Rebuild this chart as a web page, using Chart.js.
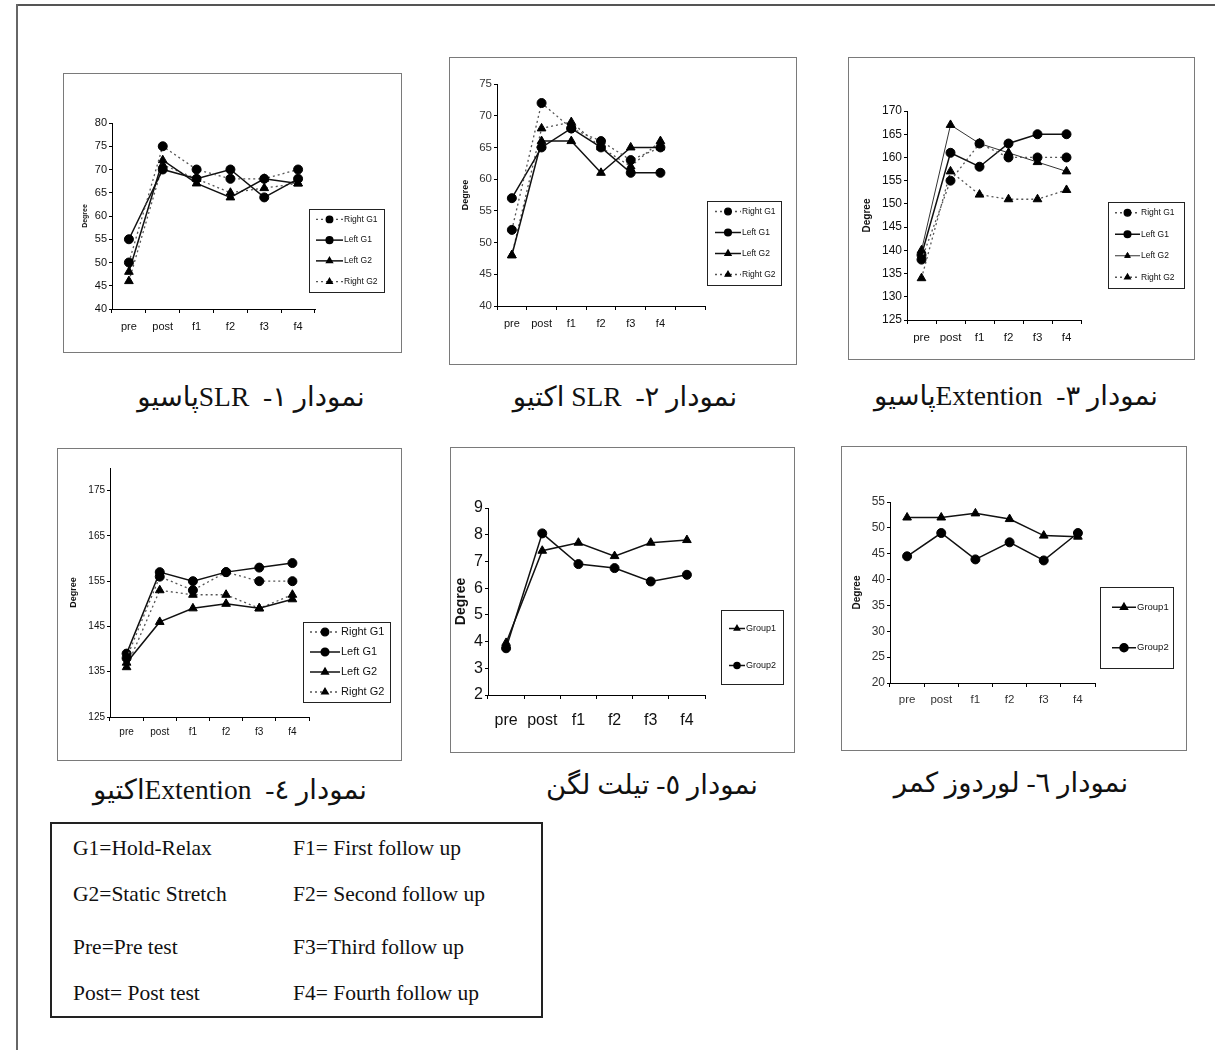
<!DOCTYPE html>
<html>
<head>
<meta charset="utf-8">
<script src="https://cdn.jsdelivr.net/npm/chart.js@4.4.1/dist/chart.umd.min.js"></script>
<style>
  body { margin: 0; background: #fff; }
  #page { position: relative; width: 1215px; height: 1050px; overflow: hidden; background: #fff; }
  #page canvas { position: absolute; outline: 1.5px solid #7a7a7a; outline-offset: -1.5px; }
  .edge-top { position: absolute; left: 17px; top: 4px; width: 1198px; height: 0; border-top: 2px solid #555; }
  .edge-left { position: absolute; left: 16px; top: 4px; width: 0; height: 1046px; border-left: 2px solid #666; }
  .cap { position: absolute; width: 440px; height: 34px; line-height: 34px; text-align: center;
         direction: rtl; white-space: pre; color: #111;
         font-family: "Liberation Serif", "DejaVu Sans", serif; font-size: 27.5px; }
  #key { position: absolute; left: 50px; top: 822px; width: 489px; height: 192px; border: 2px solid #222;
         font-family: "Liberation Serif", serif; font-size: 21.5px; color: #111; }
  #key div { position: absolute; white-space: nowrap; line-height: 24px; }
</style>
</head>
<body>
<div id="page">
  <div class="edge-top"></div>
  <div class="edge-left"></div>

  <canvas id="c1" width="339" height="280" style="left:63px;top:73px"></canvas>
  <canvas id="c2" width="348" height="308" style="left:449px;top:57px"></canvas>
  <canvas id="c3" width="347" height="303" style="left:848px;top:57px"></canvas>
  <canvas id="c4" width="345" height="313" style="left:57px;top:448px"></canvas>
  <canvas id="c5" width="345" height="306" style="left:450px;top:447px"></canvas>
  <canvas id="c6" width="346" height="305" style="left:841px;top:446px"></canvas>

  <div class="cap" style="left:31px;top:380px">نمودار ۱-  SLRپاسیو</div>
  <div class="cap" style="left:405px;top:380px">نمودار ۲-  SLR اکتیو</div>
  <div class="cap" style="left:796px;top:379px">نمودار ۳-  Extentionپاسیو</div>
  <div class="cap" style="left:10px;top:773px">نمودار ٤-  Extentionاکتیو</div>
  <div class="cap" style="left:432px;top:768px">نمودار ٥- تیلت لگن</div>
  <div class="cap" style="left:791px;top:766px">نمودار ٦- لوردوز کمر</div>

  <div id="key">
    <div style="left:21px;top:12px">G1=Hold-Relax</div>
    <div style="left:21px;top:58px">G2=Static Stretch</div>
    <div style="left:21px;top:111px">Pre=Pre test</div>
    <div style="left:21px;top:157px">Post= Post test</div>
    <div style="left:241px;top:12px">F1= First follow up</div>
    <div style="left:241px;top:58px">F2= Second follow up</div>
    <div style="left:241px;top:111px">F3=Third follow up</div>
    <div style="left:241px;top:157px">F4= Fourth follow up</div>
  </div>
</div>

<script>
// categories
const categories = ['pre', 'post', 'f1', 'f2', 'f3', 'f4'];
const categoriesWide = ['pre', 'post', 'f1', 'f2', 'f3', 'f4', '']; // chart 2 leaves one empty slot

// chart 1 - SLR passive
const slrPassiveRightG1 = [50, 75, 70, 68, 68, 70];
const slrPassiveLeftG1 = [55, 70, 68, 70, 64, 68];
const slrPassiveLeftG2 = [48, 72, 67, 64, 68, 67];
const slrPassiveRightG2 = [46, 71, 68, 65, 66, 67];

// chart 2 - SLR active
const slrActiveRightG1 = [52, 72, 68, 66, 63, 65];
const slrActiveLeftG1 = [57, 65, 68, 65, 61, 61];
const slrActiveLeftG2 = [48, 66, 66, 61, 65, 65];
const slrActiveRightG2 = [48, 68, 69, 65, 62, 66];

// chart 3 - extension passive
const extPassiveRightG1 = [138, 155, 163, 160, 160, 160];
const extPassiveLeftG1 = [139, 161, 158, 163, 165, 165];
const extPassiveLeftG2 = [140, 167, 163, 161, 159, 157];
const extPassiveRightG2 = [134, 157, 152, 151, 151, 153];

// chart 4 - extension active
const extActiveRightG1 = [138, 156, 153, 157, 155, 155];
const extActiveLeftG1 = [139, 157, 155, 157, 158, 159];
const extActiveLeftG2 = [137, 146, 149, 150, 149, 151];
const extActiveRightG2 = [136, 153, 152, 152, 149, 152];
const extActiveTicks = [125, 135, 145, 155, 165, 175];

// chart 5 - pelvic tilt
const tiltGroup1 = [3.95, 7.4, 7.7, 7.2, 7.7, 7.8];
const tiltGroup2 = [3.75, 8.05, 6.9, 6.75, 6.25, 6.5];

// chart 6 - lordosis
const lordosisGroup1 = [52, 52, 52.8, 51.7, 48.5, 48.3];
const lordosisGroup2 = [44.5, 49, 43.9, 47.2, 43.7, 49];

// legend drawn as an Excel style box: line sample with the marker on it
const boxLegend = {
  id: 'boxLegend',
  afterDraw(chart, args, opts) {
    if (!opts.box) return;
    const ctx = chart.ctx;
    const [x, y, w, h] = opts.box;
    ctx.save();
    ctx.setLineDash([]);
    ctx.strokeStyle = '#222';
    ctx.lineWidth = 1;
    ctx.strokeRect(x + 0.5, y + 0.5, w, h);
    const n = chart.data.datasets.length;
    const rowH = h / n;
    ctx.font = opts.font;
    ctx.textBaseline = 'middle';
    chart.data.datasets.forEach((ds, i) => {
      const cy = y + rowH * (i + 0.5);
      const x0 = x + opts.pad;
      const x1 = x0 + opts.sample;
      ctx.strokeStyle = ds.borderColor;
      ctx.lineWidth = ds.borderWidth;
      ctx.setLineDash(ds.borderDash || []);
      ctx.beginPath();
      ctx.moveTo(x0, cy);
      ctx.lineTo(x1, cy);
      ctx.stroke();
      ctx.setLineDash([]);
      ctx.fillStyle = '#000';
      ctx.strokeStyle = '#000';
      Chart.helpers.drawPoint(ctx, {
        pointStyle: ds.pointStyle, radius: opts.marker, borderWidth: 1, rotation: 0
      }, (x0 + x1) / 2, cy);
      ctx.fillStyle = '#111';
      ctx.fillText(ds.label, x1 + 1, cy);
    });
    ctx.restore();
  }
};

function series(label, data, dotted, style) {
  return {
    label: label,
    data: data,
    borderColor: dotted ? '#555' : '#111',
    borderWidth: dotted ? 1.3 : 1.5,
    borderDash: dotted ? [2, 3] : [],
    pointStyle: style,
    pointRadius: style === 'triangle' ? 5 : 4.5,
    pointBackgroundColor: '#000',
    pointBorderColor: '#000',
    pointBorderWidth: 1,
    tension: 0,
    fill: false
  };
}

function makeChart(id, labels, datasets, cfg) {
  const canvas = document.getElementById(id);
  const [l, t, r, b] = cfg.plot;
  const yTicks = {
    color: cfg.yColor || '#111',
    font: cfg.yFont,
    padding: 2
  };
  if (cfg.step) yTicks.stepSize = cfg.step;

  new Chart(canvas, {
    type: 'line',
    data: { labels: labels, datasets: datasets },
    options: {
      responsive: false,
      animation: false,
      layout: { padding: { left: 0, top: t, right: canvas.width - r, bottom: 0 } },
      plugins: {
        legend: { display: false },
        tooltip: { enabled: false },
        boxLegend: cfg.legend
      },
      scales: {
        x: {
          offset: true,
          grid: { display: true, drawOnChartArea: false, offset: true, tickLength: 4, color: '#000' },
          border: { display: true, color: '#000', width: 1 },
          ticks: { color: cfg.xColor || '#111', font: cfg.xFont, padding: cfg.xPad, maxRotation: 0, autoSkip: false },
          afterFit: (s) => { s.height = canvas.height - b; }
        },
        y: {
          min: cfg.min,
          max: cfg.max,
          grid: { display: true, drawOnChartArea: false, tickLength: 3, color: '#000' },
          border: { display: true, color: '#000', width: 1 },
          ticks: yTicks,
          afterBuildTicks: cfg.ticks ? (s) => { s.ticks = cfg.ticks.map(v => ({ value: v })); } : undefined,
          title: {
            display: true, text: 'Degree', color: '#111',
            font: cfg.titleFont, padding: { top: cfg.titlePad, bottom: 0 }
          },
          afterFit: (s) => { s.width = l; }
        }
      }
    },
    plugins: [boxLegend]
  });
}

const sans = 'Liberation Sans';
const narrow = '"Liberation Sans Narrow", "Liberation Sans"';

makeChart('c1', categories, [
  series('Right G1', slrPassiveRightG1, true, 'circle'),
  series('Left G1', slrPassiveLeftG1, false, 'circle'),
  series('Left G2', slrPassiveLeftG2, false, 'triangle'),
  series('Right G2', slrPassiveRightG2, true, 'triangle')
], {
  plot: [49, 50, 252, 236], min: 40, max: 80, step: 5,
  yFont: { family: sans, size: 11 }, xFont: { family: sans, size: 11 }, xPad: 7,
  titleFont: { family: sans, size: 7, weight: 'bold' }, titlePad: 18,
  legend: { box: [246, 136, 75, 83], pad: 7, sample: 27, marker: 3.3, font: '8.5px "Liberation Sans"' }
});

makeChart('c2', categoriesWide, [
  series('Right G1', slrActiveRightG1, true, 'circle'),
  series('Left G1', slrActiveLeftG1, false, 'circle'),
  series('Left G2', slrActiveLeftG2, false, 'triangle'),
  series('Right G2', slrActiveRightG2, true, 'triangle')
], {
  plot: [48, 27, 256, 249], min: 40, max: 75, step: 5, yColor: '#333',
  yFont: { family: sans, size: 11.5 }, xFont: { family: sans, size: 11 }, xPad: 7,
  titleFont: { family: sans, size: 9, weight: 'bold' }, titlePad: 11,
  legend: { box: [258, 144, 74, 84], pad: 8, sample: 26, marker: 3.3, font: '8.5px "Liberation Sans"' }
});

makeChart('c3', categories, [
  series('Right G1', extPassiveRightG1, true, 'circle'),
  series('Left G1', extPassiveLeftG1, false, 'circle'),
  Object.assign(series('Left G2', extPassiveLeftG2, false, 'triangle'), { borderWidth: 1, borderColor: '#333' }),
  series('Right G2', extPassiveRightG2, true, 'triangle')
], {
  plot: [59, 54, 233, 263], min: 125, max: 170, step: 5,
  yFont: { family: sans, size: 12 }, xFont: { family: sans, size: 11.5 }, xPad: 7,
  titleFont: { family: sans, size: 10, weight: 'bold' }, titlePad: 13,
  legend: { box: [260, 145, 76, 86], pad: 7, sample: 25, marker: 3.3, font: '8.5px "Liberation Sans"' }
});

makeChart('c4', categories, [
  series('Right G1', extActiveRightG1, true, 'circle'),
  series('Left G1', extActiveLeftG1, false, 'circle'),
  series('Left G2', extActiveLeftG2, false, 'triangle'),
  series('Right G2', extActiveRightG2, true, 'triangle')
], {
  plot: [53, 20, 252, 269], min: 125, max: 180, ticks: extActiveTicks,
  yFont: { family: narrow, size: 10 }, xFont: { family: sans, size: 10 }, xPad: 5,
  titleFont: { family: sans, size: 9, weight: 'bold' }, titlePad: 11,
  legend: { box: [246, 174, 87, 80], pad: 7, sample: 30, marker: 3.8, font: '11px "Liberation Sans"' }
});

makeChart('c5', categories, [
  series('Group1', tiltGroup1, false, 'triangle'),
  series('Group2', tiltGroup2, false, 'circle')
], {
  plot: [38, 61, 255, 248], min: 2, max: 9, step: 1,
  yFont: { family: narrow, size: 16 }, xFont: { family: narrow, size: 16 }, xPad: 12,
  titleFont: { family: narrow, size: 14, weight: 'bold' }, titlePad: 3,
  legend: { box: [271, 163, 62, 74], pad: 8, sample: 16, marker: 3, font: '9px "Liberation Sans Narrow", "Liberation Sans"' }
});

makeChart('c6', categories, [
  series('Group1', lordosisGroup1, false, 'triangle'),
  series('Group2', lordosisGroup2, false, 'circle')
], {
  plot: [49, 56, 254, 237], min: 20, max: 55, step: 5, yColor: '#333', xColor: '#333',
  yFont: { family: sans, size: 12 }, xFont: { family: sans, size: 11.5 }, xPad: 6,
  titleFont: { family: sans, size: 10, weight: 'bold' }, titlePad: 10,
  legend: { box: [259, 141, 73, 81], pad: 12, sample: 24, marker: 4, font: '9.5px "Liberation Sans"' }
});
</script>
</body>
</html>
